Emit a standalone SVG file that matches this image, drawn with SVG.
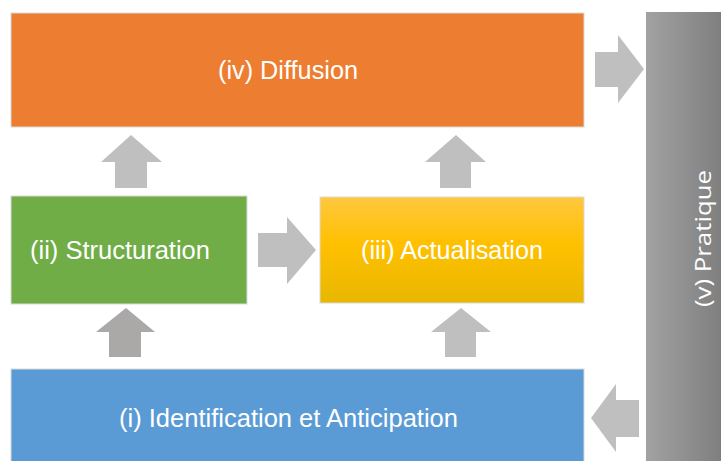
<svg xmlns="http://www.w3.org/2000/svg" width="721" height="461" viewBox="0 0 721 461">
  <defs>
    <linearGradient id="gradYellow" x1="0" y1="0" x2="0" y2="1">
      <stop offset="0" stop-color="#FFC83F"/>
      <stop offset="0.45" stop-color="#FFC000"/>
      <stop offset="1" stop-color="#E8B700"/>
    </linearGradient>
    <linearGradient id="gradGray" x1="0" y1="0" x2="1" y2="0">
      <stop offset="0" stop-color="#A2A2A2"/>
      <stop offset="1" stop-color="#7F7F7F"/>
    </linearGradient>
    <style>
      .box { stroke: #D9D9D9; stroke-width: 1; }
      .label { fill: #FFFFFF; font-family: "Liberation Sans Narrow", "Liberation Sans", Arial, sans-serif; font-size: 25px; text-anchor: start; }
      .vlabel { fill: #FFFFFF; font-family: "Open Sans", "DejaVu Sans", sans-serif; font-size: 22px; }
      .arrow { fill: #BFBFBF; }
      .arrow-dark { fill: #ABA8A8; }
    </style>
  </defs>

  <rect width="721" height="461" fill="#FFFFFF"/>

  <!-- connectors: block arrows -->
  <g id="connectors">
    <!-- Diffusion -> Pratique -->
    <polygon class="arrow" points="595,52 618,52 618,35 644,69 618,103 618,87 595,87"/>
    <!-- Structuration -> Diffusion -->
    <polygon class="arrow" points="115,188 115,162 101,162 131,135 162,162 147,162 147,188"/>
    <!-- Actualisation -> Diffusion -->
    <polygon class="arrow" points="440,188 440,162 425,162 456,135 486,162 471,162 471,188"/>
    <!-- Structuration -> Actualisation -->
    <polygon class="arrow" points="258,233 287,233 287,217 316,250 287,284 287,267 258,267"/>
    <!-- Identification -> Structuration -->
    <polygon class="arrow-dark" points="109,357 109,332 96,332 126,308 155,332 141,332 141,357"/>
    <!-- Identification -> Actualisation -->
    <polygon class="arrow" points="445,357 445,332 431,332 461,308 491,332 476,332 476,357"/>
    <!-- Pratique -> Identification -->
    <polygon class="arrow" points="639,400 616,400 616,384 591,418 616,452 616,437 639,437"/>
  </g>

  <g id="node-diffusion">
    <rect class="box" x="11" y="13" width="573" height="114" fill="#ED7D31"/>
    <text class="label" x="218" y="79" textLength="140" lengthAdjust="spacingAndGlyphs">(iv) Diffusion</text>
  </g>

  <g id="node-structuration">
    <rect class="box" x="11" y="196" width="236" height="108" fill="#70AD47"/>
    <text class="label" x="30" y="259" textLength="180" lengthAdjust="spacingAndGlyphs">(ii) Structuration</text>
  </g>

  <g id="node-actualisation">
    <rect class="box" x="320" y="197" width="264" height="106" fill="url(#gradYellow)"/>
    <text class="label" x="361" y="259" textLength="182" lengthAdjust="spacingAndGlyphs">(iii) Actualisation</text>
  </g>

  <g id="node-identification">
    <rect class="box" x="11" y="369" width="573" height="100" fill="#5B9BD5"/>
    <text class="label" x="119" y="427" textLength="339" lengthAdjust="spacingAndGlyphs">(i) Identification et Anticipation</text>
  </g>

  <g id="node-pratique">
    <rect x="646" y="12" width="75" height="449" fill="url(#gradGray)"/>
    <text class="vlabel" transform="translate(711,307) rotate(-90)" textLength="137" lengthAdjust="spacingAndGlyphs">(v) Pratique</text>
  </g>
</svg>
